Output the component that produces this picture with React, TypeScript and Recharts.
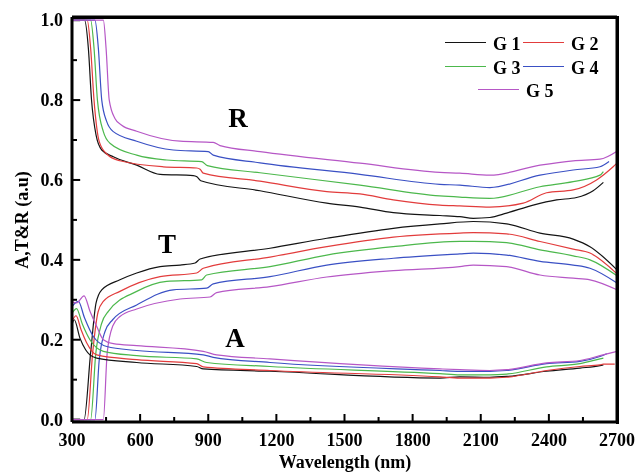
import React from 'react';
import { LineChart, Line, XAxis, YAxis, ReferenceDot, ReferenceLine } from 'recharts';

type Pt = [number, number];

const GROUPS = ['G 1', 'G 2', 'G 3', 'G 4', 'G 5'];
const COLORS = ['#141414', '#e23c3c', '#4cb84c', '#3a50c4', '#b657c6'];

const X_TICKS = [300, 450, 600, 750, 900, 1050, 1200, 1350, 1500, 1650, 1800, 1950, 2100, 2250, 2400, 2550, 2700];
const Y_TICKS = [0, 0.1, 0.2, 0.3, 0.4, 0.5, 0.6, 0.7, 0.8, 0.9, 1.0];

// reflectance
const R_G1: Pt[] = [[300, 1.0], [355, 1.0], [372, 0.93], [386, 0.8], [406, 0.712], [431, 0.675], [482, 0.658], [585, 0.637], [688, 0.614], [834, 0.611], [850, 0.608], [867, 0.598], [1128, 0.573], [1422, 0.542], [1568, 0.532], [1715, 0.518], [1920, 0.511], [2008, 0.508], [2067, 0.504], [2140, 0.506], [2214, 0.517], [2331, 0.537], [2434, 0.55], [2522, 0.556], [2595, 0.573], [2640, 0.594]];
const R_G2: Pt[] = [[300, 1.0], [367, 1.0], [382, 0.93], [397, 0.8], [420, 0.696], [453, 0.665], [511, 0.648], [702, 0.633], [849, 0.63], [864, 0.627], [878, 0.617], [1128, 0.597], [1422, 0.571], [1568, 0.565], [1715, 0.55], [1920, 0.537], [2008, 0.535], [2140, 0.532], [2287, 0.542], [2390, 0.568], [2507, 0.575], [2610, 0.6], [2683, 0.633], [2700, 0.642]];
const R_G3: Pt[] = [[300, 1.0], [382, 1.0], [397, 0.93], [412, 0.8], [438, 0.721], [467, 0.692], [585, 0.662], [717, 0.65], [871, 0.646], [896, 0.636], [1128, 0.618], [1568, 0.587], [1920, 0.56], [2008, 0.557], [2140, 0.554], [2361, 0.583], [2507, 0.596], [2625, 0.612], [2640, 0.621]];
const R_G4: Pt[] = [[300, 1.0], [401, 1.0], [416, 0.93], [431, 0.8], [453, 0.746], [482, 0.721], [585, 0.697], [746, 0.675], [900, 0.671], [922, 0.662], [1128, 0.643], [1568, 0.614], [1920, 0.589], [2008, 0.587], [2140, 0.581], [2361, 0.612], [2507, 0.625], [2625, 0.633], [2665, 0.646]];
const R_G5: Pt[] = [[300, 1.0], [438, 1.0], [450, 0.93], [464, 0.8], [489, 0.754], [519, 0.737], [585, 0.722], [776, 0.697], [922, 0.694], [952, 0.686], [1128, 0.671], [1568, 0.642], [1920, 0.619], [2008, 0.617], [2140, 0.612], [2361, 0.637], [2507, 0.648], [2625, 0.652], [2700, 0.672]];

// transmittance
const T_G1: Pt[] = [[300, 0], [353, 0], [382, 0.167], [406, 0.292], [431, 0.325], [511, 0.35], [585, 0.367], [688, 0.383], [776, 0.387], [842, 0.392], [864, 0.402], [1172, 0.429], [1422, 0.454], [1715, 0.479], [1920, 0.49], [2067, 0.496], [2214, 0.49], [2361, 0.467], [2507, 0.452], [2581, 0.433], [2700, 0.375]];
const T_G2: Pt[] = [[300, 0], [367, 0], [391, 0.167], [415, 0.27], [438, 0.296], [511, 0.321], [688, 0.358], [849, 0.367], [878, 0.379], [1172, 0.407], [1422, 0.433], [1715, 0.457], [2008, 0.467], [2067, 0.468], [2214, 0.465], [2361, 0.446], [2507, 0.427], [2581, 0.417], [2700, 0.365]];
const T_G3: Pt[] = [[300, 0], [382, 0], [405, 0.167], [430, 0.24], [460, 0.271], [585, 0.321], [717, 0.346], [871, 0.35], [893, 0.362], [1172, 0.383], [1422, 0.412], [1715, 0.433], [2008, 0.446], [2067, 0.446], [2214, 0.443], [2361, 0.425], [2507, 0.41], [2581, 0.4], [2700, 0.36]];
const T_G4: Pt[] = [[300, 0], [401, 0], [420, 0.15], [445, 0.22], [479, 0.25], [585, 0.287], [746, 0.325], [893, 0.329], [922, 0.34], [1172, 0.358], [1422, 0.387], [1715, 0.404], [2008, 0.415], [2067, 0.417], [2214, 0.412], [2361, 0.396], [2507, 0.387], [2581, 0.379], [2700, 0.342]];
const T_G5: Pt[] = [[300, 0], [438, 0], [455, 0.167], [480, 0.235], [511, 0.258], [585, 0.277], [776, 0.302], [908, 0.307], [937, 0.318], [1172, 0.333], [1422, 0.357], [1715, 0.373], [2008, 0.383], [2067, 0.387], [2214, 0.383], [2361, 0.362], [2507, 0.354], [2581, 0.35], [2700, 0.325]];

// absorbance
const A_G1: Pt[] = [[300, 0.238], [310, 0.25], [335, 0.204], [360, 0.175], [379, 0.162], [409, 0.154], [585, 0.143], [849, 0.133], [878, 0.127], [1172, 0.121], [1920, 0.104], [2008, 0.107], [2140, 0.106], [2214, 0.108], [2390, 0.121], [2537, 0.129], [2625, 0.135], [2640, 0.137]];
const A_G2: Pt[] = [[300, 0.246], [318, 0.26], [340, 0.225], [365, 0.192], [409, 0.162], [585, 0.15], [849, 0.14], [878, 0.132], [1172, 0.123], [1920, 0.107], [2008, 0.104], [2140, 0.104], [2214, 0.106], [2390, 0.123], [2537, 0.133], [2625, 0.137], [2640, 0.139], [2690, 0.139]];
const A_G3: Pt[] = [[300, 0.266], [320, 0.278], [345, 0.24], [379, 0.2], [438, 0.171], [585, 0.16], [849, 0.152], [893, 0.143], [1172, 0.133], [1920, 0.115], [2008, 0.112], [2140, 0.112], [2214, 0.114], [2390, 0.132], [2537, 0.14], [2625, 0.152], [2640, 0.154]];
const A_G4: Pt[] = [[300, 0.283], [328, 0.296], [355, 0.255], [394, 0.208], [453, 0.183], [585, 0.173], [878, 0.162], [922, 0.156], [1172, 0.143], [1920, 0.123], [2008, 0.121], [2140, 0.121], [2214, 0.123], [2390, 0.14], [2537, 0.146], [2625, 0.158], [2655, 0.165]];
const A_G5: Pt[] = [[300, 0.295], [320, 0.292], [353, 0.31], [380, 0.27], [409, 0.233], [438, 0.2], [482, 0.19], [585, 0.185], [878, 0.171], [937, 0.162], [1172, 0.152], [1920, 0.127], [2008, 0.125], [2140, 0.123], [2214, 0.125], [2390, 0.142], [2537, 0.148], [2625, 0.16], [2700, 0.171]];

const R_SERIES = [R_G1, R_G2, R_G3, R_G4, R_G5];
const T_SERIES = [T_G1, T_G2, T_G3, T_G4, T_G5];
const A_SERIES = [A_G1, A_G2, A_G3, A_G4, A_G5];

const FONT = '"Liberation Serif", "Times New Roman", serif';
const X_MIN = 300;
const X_MAX = 2700;
const Y_MIN = -0.006;
const Y_MAX = 1.008;

const toRows = (pts: Pt[]) => pts.map(([x, v]) => ({ x, v }));
const isMajorX = (v: number) => v % 300 === 0;
const isMajorY = (v: number) => Math.round(v * 10) % 2 === 0;

const XTick = (props: any) => {
  const { x, y, payload } = props;
  const v = payload.value;
  const major = isMajorX(v);
  return (
    <g>
      <path d={`M${x},${y}V${y - (major ? 8 : 5)}`} stroke="#000" strokeWidth={2} fill="none" />
      {major && (
        <text x={x} y={y + 24} textAnchor="middle" fontFamily={FONT} fontWeight="bold" fontSize={18} fill="#000">
          {v}
        </text>
      )}
    </g>
  );
};

const YTick = (props: any) => {
  const { x, y, payload } = props;
  const v = payload.value;
  if (!isMajorY(v)) return <g />;
  return (
    <text x={x - 9} y={y + 6} textAnchor="end" fontFamily={FONT} fontWeight="bold" fontSize={18} fill="#000">
      {v.toFixed(1)}
    </text>
  );
};

const bigLabel = (value: string) => ({
  value,
  position: 'center' as const,
  fontFamily: FONT,
  fontWeight: 'bold',
  fontSize: 27,
  fill: '#000',
});

const legendSpots = [
  { x: 445, y: 43 },
  { x: 523, y: 43 },
  { x: 445, y: 67 },
  { x: 523, y: 67 },
  { x: 478, y: 90 },
];

const textStyle: React.CSSProperties = {
  position: 'absolute',
  fontFamily: FONT,
  fontWeight: 'bold',
  fontSize: 18,
  lineHeight: '18px',
  color: '#000',
  whiteSpace: 'nowrap',
};

const App: React.FC = () => {
  return (
    <div style={{ position: 'fixed', left: 0, top: 0, width: 636, height: 474 }}>
      <LineChart width={636} height={474} margin={{ top: 15, right: 17, left: 0, bottom: 0 }}>
        <XAxis
          type="number"
          dataKey="x"
          domain={[X_MIN, X_MAX]}
          ticks={X_TICKS}
          interval={0}
          height={52}
          tickSize={0}
          tickMargin={0}
          tickLine={false}
          tick={<XTick />}
          axisLine={{ stroke: '#000', strokeWidth: 3 }}
        />
        <XAxis
          xAxisId="top"
          orientation="top"
          type="number"
          dataKey="x"
          domain={[X_MIN, X_MAX]}
          height={2}
          tick={false}
          tickLine={false}
          axisLine={{ stroke: '#000', strokeWidth: 3 }}
        />
        <YAxis
          type="number"
          domain={[Y_MIN, Y_MAX]}
          ticks={Y_TICKS}
          interval={0}
          width={72}
          tickSize={0}
          tickMargin={0}
          tickLine={false}
          tick={<YTick />}
          axisLine={{ stroke: '#000', strokeWidth: 3 }}
        />
        <YAxis
          yAxisId="right"
          orientation="right"
          type="number"
          domain={[Y_MIN, Y_MAX]}
          width={2}
          tick={false}
          tickLine={false}
          axisLine={{ stroke: '#000', strokeWidth: 3 }}
        />
        {/* inward tick marks on the value axis */}
        {Y_TICKS.map((v) => (
          <ReferenceLine
            key={`yt${v}`}
            segment={[{ x: X_MIN, y: v }, { x: X_MIN + (isMajorY(v) ? 36 : 22), y: v }]}
            stroke="#000"
            strokeWidth={2}
          />
        ))}
        {[R_SERIES, T_SERIES, A_SERIES].map((set, si) =>
          set.map((pts, gi) => (
            <Line
              key={`${si}-${gi}`}
              data={toRows(pts)}
              dataKey="v"
              type="monotone"
              stroke={COLORS[gi]}
              strokeWidth={1.2}
              dot={false}
              isAnimationActive={false}
            />
          ))
        )}
        <ReferenceDot x={1031} y={0.757} r={0} fill="none" stroke="none" label={bigLabel('R')} />
        <ReferenceDot x={718} y={0.442} r={0} fill="none" stroke="none" label={bigLabel('T')} />
        <ReferenceDot x={1018} y={0.207} r={0} fill="none" stroke="none" label={bigLabel('A')} />
      </LineChart>
      {/* plot frame, top and right edges */}
      <div
        style={{
          position: 'absolute',
          left: 72,
          top: 15.5,
          width: 547,
          height: 408,
          boxSizing: 'border-box',
          borderTop: '3px solid #000',
          borderRight: '3px solid #000',
          pointerEvents: 'none',
        }}
      />
      <div style={{ ...textStyle, left: 22, top: 220, transform: 'translate(-50%, -50%) rotate(-90deg)' }}>
        A,T&amp;R (a.u)
      </div>
      <div style={{ ...textStyle, left: 345, top: 453, transform: 'translateX(-50%)' }}>Wavelength (nm)</div>
      {GROUPS.map((g, i) => {
        const s = legendSpots[i];
        return (
          <React.Fragment key={g}>
            <div
              style={{ position: 'absolute', left: s.x, top: s.y - 0.6, width: 41, height: 0, borderTop: `1.2px solid ${COLORS[i]}` }}
            />
            <div style={{ ...textStyle, left: s.x + 48, top: s.y - 8.5 }}>{g}</div>
          </React.Fragment>
        );
      })}
    </div>
  );
};

export default App;
